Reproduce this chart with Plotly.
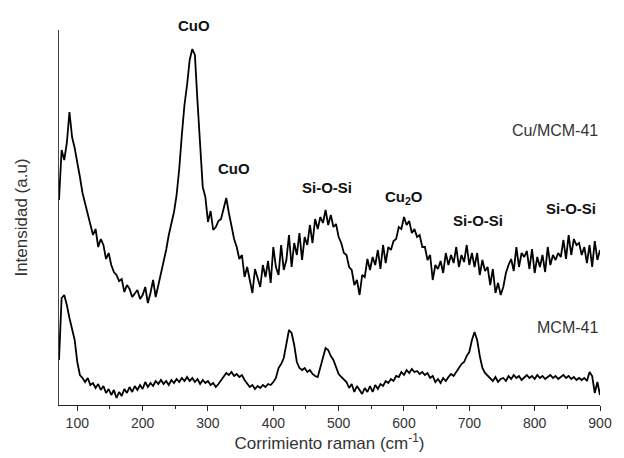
import plotly.graph_objects as go

# Raman shift (cm^-1), sampled every 4 cm^-1
shift = list(range(72, 901, 4))

# Cu/MCM-41 intensity (a.u., offset upper trace)
cu_mcm41 = [
    205, 255, 245, 262, 293, 268, 257, 244, 228, 212,
    202, 190, 180, 170, 176, 158, 166, 160, 146, 152,
    140, 133, 130, 124, 126, 113, 120, 116, 108, 112,
    115, 106, 110, 118, 102, 112, 125, 108, 120, 133,
    142, 155, 170, 180, 193, 210, 236, 270, 300, 320,
    345, 356, 350, 303, 262, 218, 208, 183, 194, 175,
    178, 184, 186, 198, 207, 192, 180, 166, 158, 146,
    150, 128, 138, 125, 112, 136, 126, 118, 140, 128,
    144, 122, 158, 138, 130, 160, 135, 145, 170, 138,
    162, 150, 172, 145, 168, 160, 180, 162, 186, 176,
    188, 182, 195, 180, 190, 178, 181, 168, 162, 152,
    150, 138, 135, 120, 125, 110, 130, 128, 146, 135,
    148, 140, 155, 136, 160, 142, 158, 155, 164, 166,
    178, 176, 188, 180, 184, 172, 176, 168, 170, 158,
    158, 145, 150, 125, 140, 136, 144, 132, 152, 140,
    150, 142, 158, 138, 150, 143, 160, 140, 152, 138,
    152, 130, 145, 134, 138, 120, 136, 112, 122, 110,
    118, 132, 140, 146, 134, 158, 138, 152, 148, 154,
    136, 156, 132, 148, 138, 150, 133, 158, 140, 150,
    145, 152, 148, 165, 146, 170, 150, 166, 160, 162,
    150, 158, 142, 160, 138, 164, 145, 155,
]

# MCM-41 intensity (a.u., lower trace)
mcm41 = [
    45, 107, 110, 100, 87, 75, 65, 43, 30, 27,
    23, 27, 20, 22, 17, 21, 15, 19, 12, 16,
    10, 15, 7, 13, 9, 16, 12, 18, 13, 19,
    15, 20, 16, 23, 18, 22, 19, 24, 21, 25,
    21, 24, 20, 25, 22, 26, 23, 27, 24, 28,
    24, 27, 23, 26, 21, 25, 22, 24, 20, 22,
    18, 21, 25, 29, 32, 30, 33, 29, 31, 28,
    30, 25, 21, 18, 20, 16, 19, 17, 20, 18,
    21, 20, 23, 27, 37, 41, 47, 60, 75, 72,
    60, 43, 37, 35, 37, 33, 35, 31, 29, 28,
    37, 47, 57, 55, 49, 45, 37, 31, 28, 25,
    23, 17, 21, 13, 19, 15, 11, 17, 13, 19,
    13, 20, 16, 21, 19, 24, 22, 26, 24, 29,
    28, 33, 30, 35, 32, 36, 33, 34, 31, 33,
    30, 32, 27, 29, 23, 26, 22, 27, 24, 28,
    31, 29, 33, 37, 41, 43, 49, 53, 65, 73,
    65, 49, 37, 32, 29, 27, 24, 28, 23, 26,
    27, 24, 29, 26, 30, 27, 29, 25, 28, 30,
    27, 29, 26, 30, 27, 29, 26, 28, 30, 27,
    29, 26, 28, 30, 27, 29, 26, 28, 25, 27,
    25, 27, 24, 33, 29, 12, 23, 10,
]

# Peak labels: (text, x position in cm^-1, y position in paper units)
peak_labels = ["CuO", "CuO", "Si-O-Si", "Cu<sub>2</sub>O", "Si-O-Si", "Si-O-Si"]
peak_x = [278, 340, 482, 600, 714, 855]
peak_y = [1.013, 0.632, 0.579, 0.552, 0.493, 0.525]

series_names = ["Cu/MCM-41", "MCM-41"]
series_label_y = [0.731, 0.208]

fig = go.Figure()
for name, vals in zip(series_names, [cu_mcm41, mcm41]):
    fig.add_trace(go.Scatter(x=shift, y=vals, mode="lines", name=name,
                             line=dict(color="black", width=1.8)))

annotations = []
for t, x, y in zip(peak_labels, peak_x, peak_y):
    annotations.append(dict(text="<b>" + t + "</b>", x=x, y=y, xref="x", yref="paper",
                            xanchor="center", yanchor="middle",
                            showarrow=False, font=dict(size=15, color="#111", family="Arial")))
for t, y in zip(series_names, series_label_y):
    annotations.append(dict(text=t, x=1.0, y=y, xref="paper", yref="paper",
                            xanchor="right", yanchor="middle",
                            showarrow=False, font=dict(size=16, color="#333", family="Arial")))

fig.update_layout(
    width=624, height=458,
    margin=dict(l=59, r=12, t=30, b=53),
    plot_bgcolor="white", paper_bgcolor="white",
    showlegend=False,
    annotations=annotations,
    font=dict(family="Arial", color="#333"),
    xaxis=dict(
        range=[72, 900], showgrid=False, zeroline=False,
        showline=True, linecolor="#222", linewidth=1,
        ticks="outside", ticklen=5, tickcolor="#222",
        tickvals=list(range(100, 901, 100)),
        tickfont=dict(size=14, color="#333"),
        minor=dict(tickvals=list(range(150, 900, 100)), ticks="outside", ticklen=3, tickcolor="#222"),
        title=dict(text="Corrimiento raman (cm<sup>-1</sup>)", font=dict(size=17, color="#333"), standoff=2),
    ),
    yaxis=dict(
        range=[0, 375], showgrid=False, zeroline=False,
        showline=True, linecolor="#444", linewidth=1,
        showticklabels=False, ticks="",
        title=dict(text="Intensidad (a.u)", font=dict(size=17, color="#333"), standoff=26),
    ),
)

fig.write_html("out.html")
